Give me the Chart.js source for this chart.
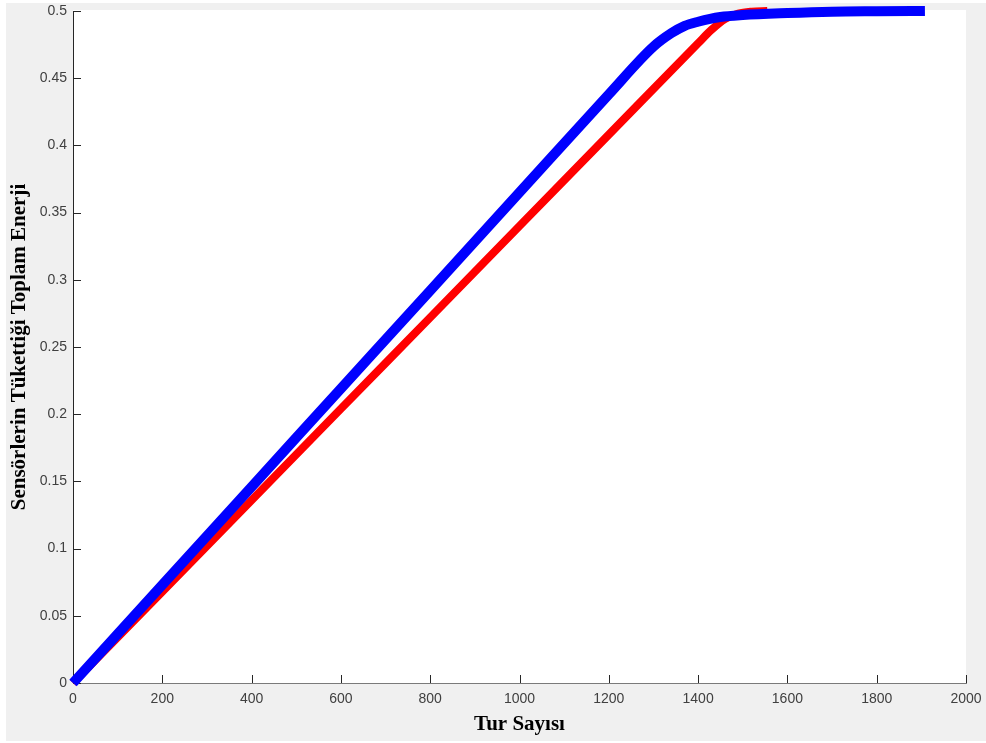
<!DOCTYPE html>
<html>
<head>
<meta charset="utf-8">
<script src="https://cdn.jsdelivr.net/npm/chart.js@4.4.1/dist/chart.umd.min.js"></script>
<style>
  body { margin: 0; background: #fff; }
  #wrap { width: 986px; height: 743px; }
</style>
</head>
<body>
<div id="wrap"><canvas id="energyChart" width="986" height="743"></canvas></div>
<script>
// tick labels
const xTicks = [0, 200, 400, 600, 800, 1000, 1200, 1400, 1600, 1800, 2000];
const yTicks = [0, 0.05, 0.1, 0.15, 0.2, 0.25, 0.3, 0.35, 0.4, 0.45, 0.5];

// red series
const redRounds = [0, 200, 400, 600, 800, 1000, 1200, 1400, 1430, 1460, 1490, 1520, 1555];
const redEnergy = [0, 0.068, 0.136, 0.204, 0.272, 0.34, 0.408, 0.476, 0.486, 0.494, 0.498, 0.4995, 0.5];

// blue series
const blueRounds = [0, 200, 400, 600, 800, 1000, 1200, 1300, 1340, 1370, 1400, 1450, 1500, 1600, 1700, 1800, 1908];
const blueEnergy = [0, 0.073, 0.146, 0.219, 0.292, 0.365, 0.438, 0.4735, 0.4835, 0.489, 0.492, 0.4955, 0.497, 0.4985, 0.4995, 0.4998, 0.5];

const toPoints = (xs, ys) => xs.map((x, i) => ({ x: x, y: ys[i] }));

// gray figure background + white axes area
const backgroundPlugin = {
  id: 'figureBackground',
  beforeDraw(chart) {
    const { ctx, chartArea: { top, bottom, left, right } } = chart;
    ctx.save();
    ctx.fillStyle = '#ffffff';
    ctx.fillRect(0, 0, chart.width, chart.height);
    ctx.fillStyle = '#f0f0f0';
    ctx.fillRect(6, 3, 980, 738);
    ctx.fillStyle = '#ffffff';
    ctx.fillRect(left, top - 1, right - left, bottom - top + 1);
    ctx.restore();
  }
};

// MATLAB style tick marks pointing into the plot
const inwardTicksPlugin = {
  id: 'inwardTicks',
  beforeDatasetsDraw(chart) {
    const { ctx, scales: { x, y }, chartArea: { top, bottom, left } } = chart;
    ctx.save();
    ctx.strokeStyle = '#262626';
    ctx.lineWidth = 1;
    ctx.beginPath();
    xTicks.forEach((v) => {
      const px = Math.round(x.getPixelForValue(v)) + 0.5;
      ctx.moveTo(px, bottom);
      ctx.lineTo(px, bottom - 8);
    });
    yTicks.forEach((v) => {
      const py = Math.round(y.getPixelForValue(v)) + 0.5;
      ctx.moveTo(left, py);
      ctx.lineTo(left + 8, py);
    });
    ctx.stroke();
    ctx.restore();
  }
};

const tickFont = { family: "'Liberation Sans', Arial, sans-serif", size: 14 };
const titleFont = { family: "'Liberation Serif', 'Times New Roman', serif", size: 21, weight: 'bold' };

new Chart(document.getElementById('energyChart'), {
  type: 'line',
  data: {
    datasets: [
      {
        label: 'blue',
        data: toPoints(blueRounds, blueEnergy),
        borderColor: '#0000ff',
        borderWidth: 10,
        pointRadius: 0,
        cubicInterpolationMode: 'monotone',
        clip: false,
      },
      {
        label: 'red',
        data: toPoints(redRounds, redEnergy),
        borderColor: '#ff0000',
        borderWidth: 8,
        pointRadius: 0,
        cubicInterpolationMode: 'monotone',
        clip: false,
      },
    ],
  },
  options: {
    responsive: false,
    animation: false,
    layout: { padding: { left: 0, top: 11, right: 20, bottom: 0 } },
    scales: {
      x: {
        type: 'linear',
        min: 0,
        max: 2000,
        afterBuildTicks: (scale) => { scale.ticks = xTicks.map((v) => ({ value: v })); },
        afterFit: (scale) => {
          scale.height = 60;
          scale.paddingLeft = 0;
          scale.paddingRight = 0;
        },
        grid: { display: false, drawTicks: false },
        border: { display: true, color: '#7a7a7a', width: 1 },
        ticks: { font: tickFont, color: '#404040', padding: 8, maxRotation: 0, callback: (v) => String(v) },
        title: { display: true, text: 'Tur Sayısı', font: titleFont, color: '#000', padding: { top: 0, bottom: 6 } },
      },
      y: {
        min: 0,
        max: 0.5,
        afterBuildTicks: (scale) => { scale.ticks = yTicks.map((v) => ({ value: v })); },
        afterFit: (scale) => {
          scale.width = 73;
          scale.paddingTop = 0;
          scale.paddingBottom = 0;
        },
        grid: { display: false, drawTicks: false },
        border: { display: true, color: '#262626', width: 1 },
        ticks: {
          font: tickFont,
          color: '#404040',
          padding: 6,
          callback: (v) => String(Number(v.toFixed(2))),
        },
        title: { display: true, text: 'Sensörlerin Tükettiği Toplam Enerji', font: titleFont, color: '#000', padding: { top: 7, bottom: 0 } },
      },
    },
    plugins: {
      legend: { display: false },
      tooltip: { enabled: false },
    },
  },
  plugins: [backgroundPlugin, inwardTicksPlugin],
});
</script>
</body>
</html>
